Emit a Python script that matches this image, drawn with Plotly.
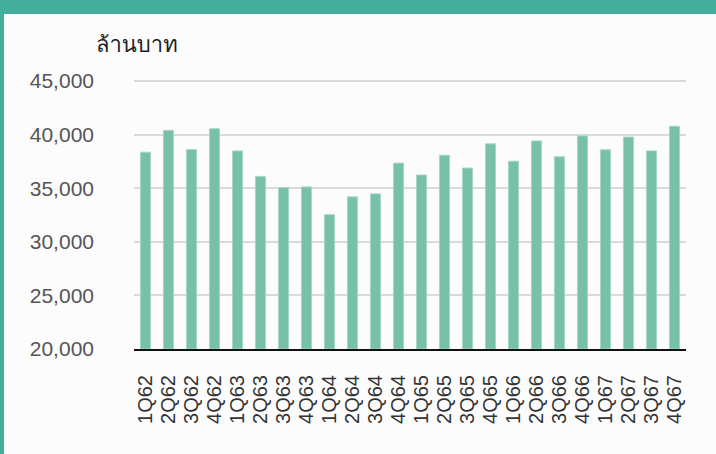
import plotly.graph_objects as go

categories = ["1Q62", "2Q62", "3Q62", "4Q62", "1Q63", "2Q63", "3Q63", "4Q63",
              "1Q64", "2Q64", "3Q64", "4Q64", "1Q65", "2Q65", "3Q65", "4Q65",
              "1Q66", "2Q66", "3Q66", "4Q66", "1Q67", "2Q67", "3Q67", "4Q67"]
values = [38370, 40410, 38620, 40560, 38490, 36110, 35060, 35130,
          32540, 34200, 34480, 37350, 36240, 38090, 36890, 39150,
          37530, 39420, 37940, 39890, 38590, 39780, 38490, 40790]
y_ticks = [20000, 25000, 30000, 35000, 40000, 45000]
unit_label = "ล้านบาท"

W, H = 716, 454
L, R, T, B = 134, 30, 79, 105
pw, ph = W - L - R, H - T - B

def px_x(x):
    return (x - L) / pw

def px_y(y):
    return (H - B - y) / ph

fig = go.Figure()
fig.add_trace(go.Bar(
    x=categories, y=[v - 20000 for v in values], base=20000,
    marker=dict(color="#78c0a7", line=dict(color="#a6d8c4", width=1)),
    hoverinfo="skip",
))

fig.update_layout(
    width=W, height=H,
    margin=dict(l=L, r=R, t=T, b=B, autoexpand=False),
    paper_bgcolor="#fcfcfc", plot_bgcolor="#fcfcfc",
    bargap=0.56,
    showlegend=False,
    font=dict(family="Liberation Sans, Arial, sans-serif", size=20, color="#444"),
    xaxis=dict(
        type="category", tickangle=-90, showgrid=False,
        tickmode="array", tickvals=categories, ticktext=categories,
        showline=True, linecolor="#111", linewidth=2,
        ticks="", ticklabelstandoff=16,
        tickfont=dict(size=20, color="#333"),
    ),
    yaxis=dict(
        range=[20000, 45200], tickvals=y_ticks, tickformat=",d",
        showgrid=True, gridcolor="#dadada", gridwidth=1.5,
        zeroline=False, showline=False, ticks="",
        ticklabelstandoff=39,
        tickfont=dict(size=21, color="#555"),
    ),
)

fig.add_annotation(
    text=unit_label, xref="paper", yref="paper",
    x=px_x(137), y=px_y(44), xanchor="center", yanchor="middle",
    showarrow=False, font=dict(size=22, color="#222",
                               family="Loma, Garuda, Noto Sans Thai, Liberation Sans, sans-serif"),
)

# top band and left border
fig.add_shape(type="rect", xref="paper", yref="paper",
              x0=px_x(0), x1=px_x(W), y0=px_y(14), y1=px_y(-2),
              fillcolor="#42ae9b", line=dict(width=0), layer="above")
fig.add_shape(type="rect", xref="paper", yref="paper",
              x0=px_x(-2), x1=px_x(4), y0=px_y(H + 2), y1=px_y(-2),
              fillcolor="#42ae9b", line=dict(width=0), layer="above")

fig.write_html("out.html", config={"displayModeBar": False})

with open("out.html", encoding="utf-8") as f:
    html = f.read()
html = html.replace("<head>", "<head><style>html,body{margin:0;padding:0;background:#fcfcfc;}</style>", 1)
with open("out.html", "w", encoding="utf-8") as f:
    f.write(html)
